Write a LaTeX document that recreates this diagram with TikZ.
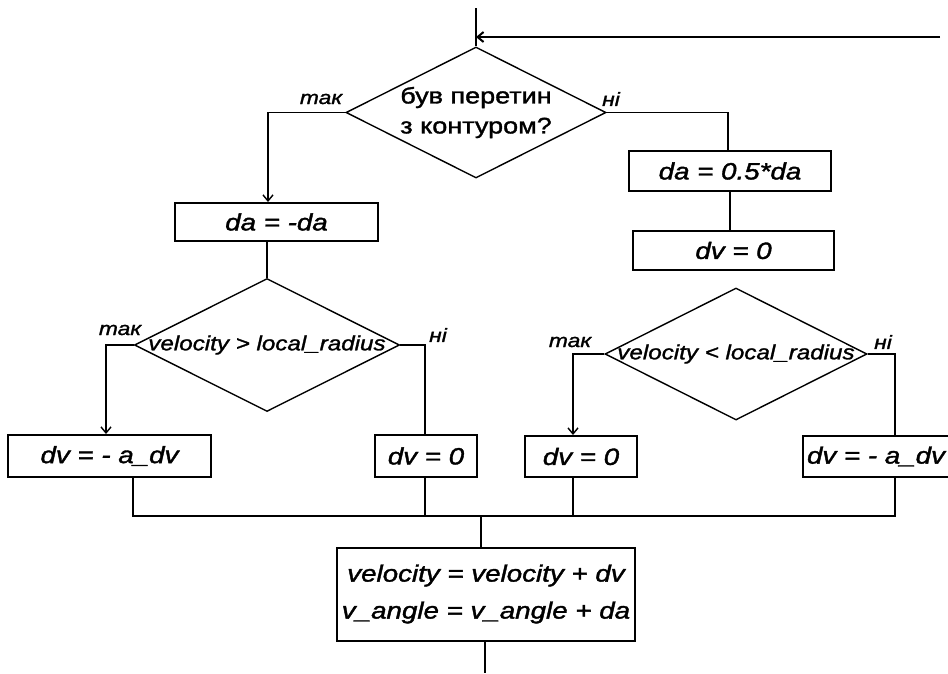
\documentclass[tikz,border=0pt]{standalone}
\usepackage{fontspec}
\setmainfont{Liberation Sans}
\newfontfamily\boxfam[FakeStretch=1.18,FakeBold=1.6]{Liberation Sans}
\newfontfamily\qfam[FakeStretch=1.2,FakeBold=1.5]{Liberation Sans}
\newfontfamily\dfam[FakeStretch=1.18,FakeBold=1.4]{Liberation Sans}
\newfontfamily\lfam[FakeStretch=1.2,FakeBold=1.4]{Liberation Sans}
\usetikzlibrary{shapes.geometric,arrows.meta}
\newcommand\boxfnt{\boxfam\itshape\fontsize{23.5}{37}\selectfont}
\newcommand\dfnt{\dfam\itshape\fontsize{20.5}{22}\selectfont}
\newcommand\qfnt{\qfam\fontsize{22.5}{30}\selectfont}
\newcommand\lfnt{\lfam\itshape\fontsize{19}{20}\selectfont}
\tikzset{
  conn/.style={line width=1.4pt},
  arr/.style={conn,-{Straight Barb[length=6pt,width=10pt]}},
  procbox/.style={draw,line width=2pt,inner sep=0pt,font=\boxfnt,align=center},
  decision/.style={draw,diamond,line width=1.4pt,inner sep=0pt},
  lbl/.style={font=\lfnt,inner sep=0pt},
}
\begin{document}
\begin{tikzpicture}[x=1pt,y=-1pt]
\useasboundingbox[fill=white] (0,0) rectangle (948,673);

% decisions
\node[decision,minimum width=260pt,minimum height=131pt,font=\qfnt,align=center] (d1) at (476,112.5)
  {\makebox[0pt]{був перетин}\\\makebox[0pt]{з контуром?}};
\node[decision,minimum width=265pt,minimum height=133pt,font=\dfnt] (d2) at (267,345)
  {\makebox[0pt]{velocity > local\_radius}};
\node[decision,minimum width=262pt,minimum height=132pt,font=\dfnt] (d3) at (736,354)
  {\makebox[0pt]{velocity < local\_radius}};

% process boxes
\node[procbox,minimum width=203pt,minimum height=38pt] (A) at (276.5,222) {da = -da};
\node[procbox,minimum width=202pt,minimum height=40pt] (B) at (730,171) {da = 0.5*da};
\node[procbox,minimum width=201pt,minimum height=39pt] (C) at (733.5,250.5) {dv = 0};
\node[procbox,minimum width=203pt,minimum height=42pt] (D) at (109.5,456) {dv = - a\_dv};
\node[procbox,minimum width=102pt,minimum height=42pt] (E) at (426,456) {dv = 0};
\node[procbox,minimum width=112pt,minimum height=41pt] (F) at (581,456.5) {dv = 0};
\node[procbox,minimum width=149pt,minimum height=41pt] (G) at (877.5,456.5) {\hspace*{-3pt}dv = - a\_dv};
\node[procbox,minimum width=298pt,minimum height=93pt] (H) at (486,594)
  {velocity = velocity + dv\\v\_angle = v\_angle + da};

% labels
\node[lbl] (l1y) at (321,99) {так};
\node[lbl] (l1n) at (611,99) {ні};
\node[lbl] (l2y) at (120,330) {так};
\node[lbl] (l2n) at (438,335) {ні};
\node[lbl] (l3y) at (570,342) {так};
\node[lbl] (l3n) at (883,342) {ні};

% free ends
\coordinate (top) at (476,8);
\coordinate (back) at (940,37);
\coordinate (busL) at (133,516);
\coordinate (busR) at (895,516);
\coordinate (out) at (485,673);

% connectors
\draw[conn] (top) -- (d1.north);
\draw[arr,line width=2pt] (back) -- (back -| d1.north);
\draw[arr] (d1.west) -| ([xshift=-8.5pt]A.north);
\draw[conn] (d1.east) -| ([xshift=-2pt]B.north);
\draw[conn] (B.south) -- (B.south |- C.north);
\draw[conn] (A.south -| d2.north) -- (d2.north);
\draw[arr] (d2.west) -| ([xshift=-3.5pt]D.north);
\draw[conn] (d2.east) -| ([xshift=-1pt]E.north);
\draw[arr] (d3.west) -| ([xshift=-8pt]F.north);
\draw[conn] (d3.east) -| ([xshift=17.5pt]G.north);
\draw[conn] (D.south -| busL) -- (busL) -- (busR) -- (G.south -| busR);
\draw[conn] ([xshift=-1pt]E.south) -- ([xshift=-1pt]E.south |- busL);
\draw[conn] ([xshift=-8pt]F.south) -- ([xshift=-8pt]F.south |- busL);
\draw[conn] ([xshift=-5pt]H.north |- busL) -- ([xshift=-5pt]H.north);
\draw[conn] (H.south -| out) -- (out);
\end{tikzpicture}
\end{document}
